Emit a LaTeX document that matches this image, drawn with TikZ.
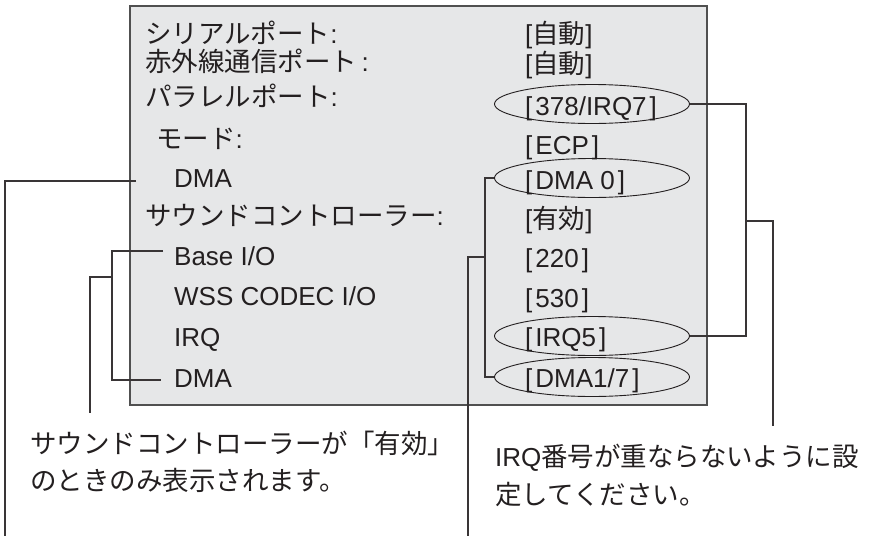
\documentclass[tikz,border=0pt]{standalone}
\usepackage{fontspec}
\setmainfont{Liberation Sans}
\newfontfamily\cjk{Noto Sans CJK JP}
\usetikzlibrary{shapes.geometric}
\definecolor{ink}{HTML}{231F20}
\definecolor{boxfill}{HTML}{E6E7E8}
\definecolor{boxline}{HTML}{505050}
\newcommand\jp[1]{{\cjk\fontsize{26.5}{30}\selectfont #1}}
\newcommand\bk[1]{[\hspace{3pt}#1\hspace{3pt}]}
\tikzset{
  lbl/.style={anchor=base west, inner sep=0pt, text=ink, font=\fontsize{26}{30}\selectfont},
  panel/.style={draw=boxline, line width=1.6pt, fill=boxfill, inner sep=0pt},
  ring/.style={ellipse, draw=ink, line width=0.9pt, inner sep=0pt, minimum width=195pt, minimum height=39pt},
  lead/.style={draw=ink!90, line width=1.1pt}
}
\begin{document}
\begin{tikzpicture}[x=1pt,y=-1pt]
\useasboundingbox (0,0) rectangle (879,536);
% panel
\node[panel, minimum width=577pt, minimum height=399pt] (box) at (418.5,205.5) {};
% ellipses
\node[ring] (e378) at (592,104) {};
\node[ring] (edma0) at (592,178) {};
\node[ring] (eirq5) at (592,336) {};
\node[ring] (edma17) at (592,377) {};
% left column
\node[lbl] (t1) at (145,43) {\jp{シリアルポート}:};
\node[lbl] (t2) at (145,71) {\jp{赤外線通信ポート}\,:};
\node[lbl] (t3) at (145,106) {\jp{パラレルポート}:};
\node[lbl] (t4) at (156,148) {\jp{モード}:};
\node[lbl] (t5) at (174,187) {DMA};
\node[lbl] (t6) at (145,225) {\jp{サウンドコントローラー}:};
\node[lbl] (t7) at (174,265) {Base I/O};
\node[lbl] (t8) at (174,305) {WSS CODEC I/O};
\node[lbl] (t9) at (174,346) {IRQ};
\node[lbl] (t10) at (174,387) {DMA};
% right column
\node[lbl] (v1) at (525,43) {[\jp{自動}]};
\node[lbl] (v2) at (525,73) {[\jp{自動}]};
\node[lbl] (v3) at (525,115) {\bk{378/IRQ7}};
\node[lbl] (v4) at (525,154) {\bk{ECP}};
\node[lbl] (v5) at (525,189) {\bk{DMA 0}};
\node[lbl] (v6) at (525,228) {[\jp{有効}]};
\node[lbl] (v7) at (525,267) {\bk{220}};
\node[lbl] (v8) at (525,307) {\bk{530}};
\node[lbl] (v9) at (525,346) {\bk{IRQ5}};
\node[lbl] (v10) at (525,387) {\bk{DMA1/7}};
% notes
\node[lbl] (n1) at (30,453) {\jp{サウンドコントローラーが「有効」}};
\node[lbl] (n2) at (30,490) {\jp{のときのみ表示されます。}};
\node[lbl] (n3) at (495,466) {IRQ\jp{番号が重ならないように設}};
\node[lbl] (n4) at (495,504) {\jp{定してください。}};
% connector coordinates
\coordinate (rA) at (746,104);
\coordinate (rB) at (746,336);
\coordinate (rM) at (746,221);
\coordinate (rM2) at (773,221);
\coordinate (rEnd) at (773,426);
\coordinate (dA) at (485,178);
\coordinate (dB) at (485,377);
\coordinate (dM) at (485,257);
\coordinate (dM2) at (468,257);
\coordinate (dEnd) at (468,536);
\coordinate (lS) at (136,181);
\coordinate (lC) at (5,181);
\coordinate (lEnd) at (5,536);
\coordinate (bT) at (163,251);
\coordinate (bTA) at (112,251);
\coordinate (bBA) at (112,380);
\coordinate (bB) at (161,380);
\coordinate (bM) at (112,277);
\coordinate (bM2) at (90,277);
\coordinate (bEnd) at (90,413);
% connectors
\draw[lead] (e378.east) -- (rA) -- (rB) -- (eirq5.east);
\draw[lead] (rM) -- (rM2) -- (rEnd);
\draw[lead] (edma0.west) -- (dA) -- (dB) -- (edma17.west);
\draw[lead] (dM) -- (dM2) -- (dEnd);
\draw[lead] (lS) -- (lC) -- (lEnd);
\draw[lead] (bT) -- (bTA) -- (bBA) -- (bB);
\draw[lead] (bM) -- (bM2) -- (bEnd);
\end{tikzpicture}
\end{document}
